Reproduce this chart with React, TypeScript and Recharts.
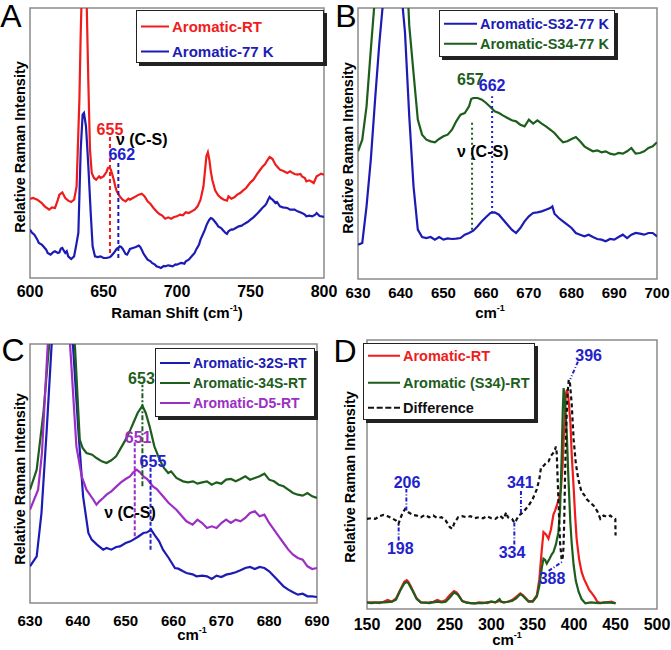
import React from 'react';
import { LineChart, Line, XAxis, YAxis, ReferenceArea, ReferenceLine, ReferenceDot } from 'recharts';

const FONT = '"Liberation Sans", Arial, Helvetica, sans-serif';
const RED = '#f01c1c';
const BLUE = '#1c1cb4';
const GREEN = '#1d5e1d';
const PURPLE = '#9b2fc4';
const LBLUE = '#2222cc';

type Pt = [number, number];

// ---- panel A: Raman shift (cm-1), relative intensity (a.u.)
const aTicks = [600, 650, 700, 750, 800];
const aRT: Pt[] = [[600,237],[602,240],[605,235],[608,225],[610,215],[613,205],[615,212],[617,210],[619,235],[620,250],[622,257],[624,240],[626,232],[628,228],[630,235],[631.7,275],[633.6,535],[634.5,735],[635.5,900],[637,1000],[638.2,900],[639.7,585],[640.8,385],[642,315],[643.5,300],[645,295],[647,305],[648,300],[650,305],[652,318],[653,330],[654,332],[655,325],[656,310],[657,295],[658,275],[659,260],[661,245],[663,235],[665,230],[667,238],[668,235],[670,240],[672,245],[674,250],[676,253],[678,245],[680,230],[682,222],[684,210],[686,200],[688,192],[690,187],[692,178],[694,182],[696,178],[698,183],[700,185],[702,190],[704,188],[706,197],[708,195],[710,200],[712,205],[714,215],[716,235],[718,275],[719,320],[720,365],[721,377],[722,355],[723,320],[724,295],[726,262],[728,248],[730,240],[732,235],[734,232],[735,245],[737,238],[739,242],[741,250],[743,255],[745,263],[747,270],[750,287],[752,295],[755,315],[758,333],[760,342],[761,350],[763,363],[764,360],[765,357],[767,340],[769,330],[770,325],[772,322],[775,315],[777,320],[778,317],[780,312],[782,310],[784,312],[785,305],[787,300],[788,290],[790,293],[792,288],[793,285],[795,305],[797,310],[798,313],[800,310]];
const a77K: Pt[] = [[600,145],[601.5,135],[603,130],[605,115],[606,105],[608,100],[609,95],[611,85],[612,75],[614,70],[616,78],[617,80],[619,75],[620,77],[621,88],[622,90],[623,82],[624,75],[625,80],[626,65],[628,57],[630,65],[631.5,100],[632.9,135],[634.5,385],[635.8,490],[636.7,495],[638.1,455],[639.7,335],[641.3,195],[642.6,95],[644.2,65],[646,63],[648,65],[650,60],[652,60],[654,62],[655,65],[657,75],[659,88],[660,90],[661,95],[662,93],[663,88],[664,80],[665,72],[666,70],[667,78],[668,87],[670,90],[672,93],[673,95],[674,97],[675,93],[676,85],[677,75],[678,68],[680,55],[682,50],[683,45],[685,40],[686,35],[688,32],[689,30],[691,36],[692,35],[694,38],[695,37],[697,35],[699,41],[700,40],[702,44],[703,45],[705,43],[706,50],[708,55],[710,65],[712,75],[713,85],[715,100],[716,115],[718,135],[719,145],[720,158],[721,167],[722,175],[723,180],[724,178],[725,173],[727,162],[728,155],[730,150],[731,145],[733,135],[734,132],[735,140],[737,146],[738,145],[740,150],[742,155],[744,157],[745,160],[748,168],[750,175],[752,182],[755,195],[757,205],[758,210],[760,218],[761,225],[762,235],[763,243],[764,238],[765,235],[767,225],[768,228],[770,215],[772,212],[775,210],[777,205],[780,205],[782,200],[785,195],[787,190],[788,185],[790,187],[792,185],[794,190],[795,195],[797,186],[800,183]];

// ---- panel B
const bTicks = [630, 640, 650, 660, 670, 680, 690, 700];
const bS32: Pt[] = [[630,103],[631,108],[632,218],[633,358],[634,538],[635,708],[636,850],[637,950],[638,980],[639,950],[640,880],[641,740],[642,488],[643,278],[644,148],[645,126],[646,123],[647,126],[648,118],[649,126],[650,118],[651,122],[652,120],[653,121],[654,123],[655,133],[656,138],[657,145],[658,158],[659,173],[660,186],[661,198],[662,200],[663,193],[664,178],[665,163],[666,148],[667,138],[668,153],[669,173],[670,188],[671,198],[672,200],[673,203],[674,208],[675,213],[675.5,218],[676,196],[677,183],[678,173],[679,163],[680,153],[681,138],[682,133],[683,128],[684,133],[685,126],[686,120],[687,118],[688,113],[689,120],[690,118],[691,126],[692,133],[693,123],[694,133],[695,138],[696,136],[697,133],[698,138],[699,138],[700,128]];
const bS34: Pt[] = [[630,383],[631,418],[632,518],[633,688],[634,850],[635,1000],[641,1000],[641.5,900],[642,760],[643,618],[644,478],[645,433],[646,418],[647,413],[648,410],[649,420],[650,428],[651,433],[652,448],[653,473],[654,493],[655,498],[656,518],[656.5,540],[657,543],[658,543],[659,538],[660,528],[661,516],[662,503],[663,498],[664,490],[665,483],[666,476],[667,473],[668,463],[669,458],[670,478],[671,466],[672,476],[673,466],[674,458],[675,448],[676,438],[677,423],[678,410],[679,413],[680,420],[681,426],[682,413],[683,398],[684,390],[685,383],[686,386],[687,380],[688,383],[689,376],[690,373],[691,378],[692,376],[693,383],[694,393],[695,376],[696,378],[697,383],[698,393],[699,398],[700,410]];

// ---- panel C
const cTicks = [630, 640, 650, 660, 670, 680, 690];
const c32S: Pt[] = [[630,110],[631.4,140],[632.4,270],[633.5,520],[634.5,770],[635,850],[638,850],[639,770],[640.1,520],[641.1,320],[642.2,210],[642.9,190],[644,175],[645.3,160],[646,165],[647,160],[648,168],[648.8,170],[650,180],[651,185],[651.6,190],[652.5,198],[653.7,210],[654.5,212],[655.3,220],[656,205],[657,185],[657.8,160],[659,135],[660.3,105],[661,103],[662,95],[662.7,90],[664,86],[664.8,80],[666,82],[667,80],[668,72],[669,82],[670,78],[671,85],[672,88],[673,92],[674,98],[675,105],[676,108],[677,102],[678,108],[679,105],[680,95],[681,80],[682,65],[683,50],[684,40],[685,32],[686,25],[687,28],[688,20],[689,20],[690,18]];
const c34S: Pt[] = [[630,340],[631.4,400],[632.8,570],[633.8,740],[634.5,850],[638.5,850],[639.4,770],[640.4,490],[641,465],[641.8,450],[643,445],[643.9,435],[645,425],[646,420],[647,428],[648,440],[648.8,460],[650,490],[651,520],[651.6,540],[652.5,570],[653.5,592],[654.2,570],[655,530],[656,470],[657.1,430],[658,405],[658.9,390],[659.5,395],[660.6,375],[662,365],[663,362],[664.1,365],[665,358],[666,362],[667,365],[668,355],[669,362],[670,358],[671,370],[672,372],[673,365],[674,372],[675,380],[676,370],[677,375],[678,380],[679,388],[680,370],[681,365],[682,355],[683,350],[684,340],[685,330],[686,325],[687,322],[688,330],[689,320],[690,315]];
const cD5: Pt[] = [[630,280],[631.7,340],[632.5,450],[633.5,720],[634,850],[638,850],[638.4,770],[639.7,470],[640.8,380],[641.8,340],[643,315],[643.9,295],[644.5,305],[645.3,315],[646,325],[647,335],[648.1,350],[649,362],[650,372],[650.9,380],[651.6,392],[652.3,400],[653,392],[653.7,380],[654.5,372],[655.7,350],[656.5,342],[657.8,320],[659,300],[660.6,280],[661.5,265],[662.7,245],[664,235],[665,250],[666,240],[667,225],[668,230],[669,225],[670,240],[671,250],[672,240],[673,250],[674,245],[675,255],[676,270],[677,275],[678,260],[679,265],[680,240],[681,220],[682,200],[683,180],[684,160],[685,145],[686,135],[687,130],[688,110],[689,102],[690,105]];

// ---- panel D
const dTicks = [150, 200, 250, 300, 350, 400, 450, 500];
const dRT: Pt[] = [[150,19],[155,20],[160,20],[165,18],[170,22],[175,27],[180,22],[185,32],[190,57],[195,82],[198,87],[200,82],[203,68],[205,57],[210,32],[215,20],[220,19],[225,20],[230,22],[235,27],[240,22],[245,27],[250,42],[255,54],[258,50],[260,44],[265,24],[270,20],[275,18],[280,17],[285,20],[290,19],[295,18],[300,22],[305,20],[310,24],[315,20],[320,22],[325,27],[330,37],[335,47],[338,42],[340,37],[345,24],[350,24],[355,42],[358,90],[361,180],[363,232],[366,225],[369,212],[372,240],[375,285],[377,297],[380,320],[382,335],[384,360],[386,430],[388,550],[390,650],[391.5,662],[393,640],[395.5,562],[397,470],[399.5,362],[401,290],[403,212],[406,150],[409,112],[412,90],[415.5,72],[418,58],[421.5,47],[425,35],[428,22],[432,18],[436,20],[440,20],[445,22],[450,17]];
const dS34: Pt[] = [[150,20],[155,18],[160,19],[165,20],[170,20],[175,21],[180,22],[185,28],[190,55],[195,77],[198,82],[200,78],[205,55],[210,30],[215,20],[220,19],[225,18],[230,20],[235,22],[240,20],[245,22],[250,35],[255,50],[258,46],[260,42],[265,24],[270,19],[275,18],[280,17],[285,18],[290,18],[295,20],[300,22],[305,20],[310,30],[312,22],[315,20],[320,22],[325,24],[330,32],[335,45],[338,40],[340,35],[345,22],[350,22],[355,38],[358,70],[361,125],[363,152],[365,148],[367,137],[370,150],[373,165],[375,172],[378,195],[381,232],[383,300],[385,462],[386.3,600],[387.3,667],[388.5,640],[390,580],[391.4,512],[393,400],[395.4,262],[397,200],[399.4,132],[402,85],[405.4,52],[409,30],[413.5,17],[420,20],[430,18],[440,20],[450,18]];
const dDiff: Pt[] = [[150,272],[155,274],[160,272],[165,280],[170,284],[175,280],[180,274],[185,267],[188,257],[190,272],[193,290],[196,302],[198,297],[200,292],[205,284],[210,282],[215,277],[220,284],[225,277],[230,282],[235,274],[240,277],[245,267],[250,247],[253,242],[255,257],[260,277],[265,280],[270,277],[275,280],[280,274],[285,277],[290,274],[295,280],[300,274],[305,272],[310,282],[315,272],[318,292],[320,277],[325,272],[328,260],[330,267],[333,282],[336,287],[340,297],[345,312],[350,332],[355,362],[358,392],[360,427],[363,432],[366,440],[369,445],[372,462],[375,472],[377,482],[378,490],[379,470],[381,330],[383,200],[385,147],[386,150],[387,180],[388,260],[389,400],[390.5,550],[392,650],[393.5,692],[395,680],[397,620],[399.4,512],[402,440],[405,392],[409,352],[412,345],[415,332],[419,322],[423.5,312],[428,295],[431.6,272],[435.6,282],[440,278],[443.6,282],[447,275],[449.7,272],[450,222]];

type Series = { name: string; pts: Pt[]; color: string; dash?: string };
type Mark = { x1: number; y1: number; x2: number; y2: number; color: string; dash: string };
type Note = { x: number; y: number; text: string; color: string };

const toRows = (pts: Pt[]) => pts.map(([x, y]) => ({ x, y }));

function Panel(props: {
  left: number; top: number; width: number; height: number;
  margin: { top: number; right: number; bottom: number; left: number };
  xDomain: [number, number]; xTicks: number[]; yMax: number; tickFont: number; tickMargin: number;
  series: Series[]; marks: Mark[]; notes: Note[];
}) {
  const { xDomain, yMax } = props;
  return (
    <div style={{ position: 'absolute', left: props.left, top: props.top }}>
      <LineChart width={props.width} height={props.height} margin={props.margin}>
        <XAxis type="number" dataKey="x" domain={xDomain} ticks={props.xTicks} interval={0} allowDataOverflow
          axisLine={false} tickLine={false} height={28} tickMargin={props.tickMargin}
          tick={{ fontSize: props.tickFont, fontWeight: 700, fill: '#000', fontFamily: FONT }} />
        <YAxis type="number" domain={[0, yMax]} hide width={0} allowDataOverflow />
        <ReferenceArea x1={xDomain[0]} x2={xDomain[1]} y1={0} y2={yMax} fill="none" stroke="#8a8a8a" strokeWidth={1.5} ifOverflow="visible" />
        {props.series.map((s) => (
          <Line key={s.name} data={toRows(s.pts)} dataKey="y" stroke={s.color} strokeWidth={2.2}
            strokeDasharray={s.dash} dot={false} isAnimationActive={false} />
        ))}
        {props.marks.map((m, i) => (
          <ReferenceLine key={'m' + i} segment={[{ x: m.x1, y: m.y1 }, { x: m.x2, y: m.y2 }]}
            stroke={m.color} strokeWidth={2} strokeDasharray={m.dash} ifOverflow="visible" />
        ))}
        {props.notes.map((n, i) => (
          <ReferenceDot key={'n' + i} x={n.x} y={n.y} r={0} fill="none" stroke="none"
            label={{ value: n.text, position: 'center', fill: n.color, fontSize: 16, fontWeight: 700, fontFamily: FONT }} />
        ))}
      </LineChart>
    </div>
  );
}

function Txt({ x, y, children, size = 15, weight = 700, rotate = false }: { x: number; y: number; children: React.ReactNode; size?: number; weight?: number; rotate?: boolean }) {
  return (
    <div style={{
      position: 'absolute', left: x, top: y, fontFamily: FONT, fontSize: size, fontWeight: weight, lineHeight: 1,
      whiteSpace: 'nowrap', color: '#000',
      transform: `translate(-50%, -50%)${rotate ? ' rotate(-90deg)' : ''}`,
    }}>{children}</div>
  );
}

function LegendBox({ left, top, width, height, rows, lineW, size, entries }: {
  left: number; top: number; width: number; height: number; rows: number[]; lineW: number; size: number; entries: Series[];
}) {
  return (
    <div style={{
      position: 'absolute', left, top, width, height, boxSizing: 'border-box', background: '#fff',
      border: '1.5px solid #222', boxShadow: '3px 3px 0 #222',
    }}>
      {entries.map((e, i) => (
        <div key={e.name} style={{ position: 'absolute', left: 4, top: rows[i], transform: 'translateY(-50%)', display: 'flex', alignItems: 'center', whiteSpace: 'nowrap' }}>
          <span style={{ display: 'inline-block', width: lineW, borderTop: `2.2px ${e.dash ? 'dashed' : 'solid'} ${e.color}`, marginRight: 3 }} />
          <span style={{ fontFamily: FONT, fontSize: size, fontWeight: 700, color: e.color, lineHeight: 1, whiteSpace: 'nowrap' }}>{e.name}</span>
        </div>
      ))}
    </div>
  );
}

const aSeries: Series[] = [
  { name: 'Aromatic-RT', pts: aRT, color: RED },
  { name: 'Aromatic-77 K', pts: a77K, color: BLUE },
];
const bSeries: Series[] = [
  { name: 'Aromatic-S32-77 K', pts: bS32, color: BLUE },
  { name: 'Aromatic-S34-77 K', pts: bS34, color: GREEN },
];
const cSeries: Series[] = [
  { name: 'Aromatic-32S-RT', pts: c32S, color: BLUE },
  { name: 'Aromatic-34S-RT', pts: c34S, color: GREEN },
  { name: 'Aromatic-D5-RT', pts: cD5, color: PURPLE },
];
const dSeries: Series[] = [
  { name: 'Aromatic-RT', pts: dRT, color: RED },
  { name: 'Aromatic (S34)-RT', pts: dS34, color: GREEN },
  { name: 'Difference', pts: dDiff, color: '#111', dash: '4 3' },
];

const aMarks: Mark[] = [
  { x1: 654.4, y1: 75, x2: 654.4, y2: 425, color: RED, dash: '4 3' },
  { x1: 660.1, y1: 60, x2: 660.1, y2: 350, color: BLUE, dash: '4 3' },
];
const aNotes: Note[] = [
  { x: 654.4, y: 445, text: '655', color: RED },
  { x: 662.4, y: 370, text: '662', color: LBLUE },
  { x: 676, y: 415, text: 'ν (C-S)', color: '#000' },
];
const bMarks: Mark[] = [
  { x1: 656.7, y1: 148, x2: 656.7, y2: 473, color: GREEN, dash: '2 3' },
  { x1: 661.4, y1: 198, x2: 661.4, y2: 548, color: LBLUE, dash: '2 3' },
];
const bNotes: Note[] = [
  { x: 656.3, y: 600, text: '657', color: GREEN },
  { x: 661.4, y: 580, text: '662', color: LBLUE },
  { x: 659.2, y: 383, text: 'ν (C-S)', color: '#000' },
];
const cMarks: Mark[] = [
  { x1: 653.5, y1: 350, x2: 653.5, y2: 655, color: GREEN, dash: '5 2 2 2' },
  { x1: 651.9, y1: 200, x2: 651.9, y2: 485, color: PURPLE, dash: '4 2' },
  { x1: 655.2, y1: 160, x2: 655.2, y2: 410, color: LBLUE, dash: '4 2' },
];
const cNotes: Note[] = [
  { x: 653.3, y: 675, text: '653', color: GREEN },
  { x: 652.6, y: 498, text: '651', color: PURPLE },
  { x: 655.7, y: 425, text: '655', color: LBLUE },
  { x: 650.9, y: 272, text: 'ν (C-S)', color: '#000' },
];
const dMarks: Mark[] = [
  { x1: 197.5, y1: 297, x2: 197.5, y2: 362, color: LBLUE, dash: '4 2 1 2' },
  { x1: 188.2, y1: 207, x2: 188.2, y2: 260, color: LBLUE, dash: '4 2 1 2' },
  { x1: 335.8, y1: 290, x2: 335.8, y2: 362, color: LBLUE, dash: '4 2 1 2' },
  { x1: 327.8, y1: 195, x2: 327.8, y2: 262, color: LBLUE, dash: '4 2 1 2' },
  { x1: 369.2, y1: 115, x2: 386.5, y2: 144, color: LBLUE, dash: '4 2 1 2' },
  { x1: 404.6, y1: 747, x2: 395.4, y2: 694, color: LBLUE, dash: '4 2 1 2' },
];
const dNotes: Note[] = [
  { x: 198.3, y: 382, text: '206', color: LBLUE },
  { x: 190.2, y: 182, text: '198', color: LBLUE },
  { x: 335, y: 382, text: '341', color: LBLUE },
  { x: 325, y: 172, text: '334', color: LBLUE },
  { x: 373.3, y: 92, text: '388', color: LBLUE },
  { x: 417.5, y: 767, text: '396', color: LBLUE },
];

const cm = <span>cm<sup style={{ fontSize: '0.6em', verticalAlign: '0.7em', lineHeight: 0 }}>-1</sup></span>;

export default function App() {
  return (
    <div style={{ position: 'absolute', left: 0, top: 0, width: 671, height: 650, background: '#fff', overflow: 'hidden' }}>
      <Panel left={0} top={0} width={346} height={320} margin={{ top: 8, right: 22, bottom: 14, left: 30 }}
        xDomain={[600, 800]} xTicks={aTicks} yMax={810} tickFont={16} tickMargin={2}
        series={aSeries} marks={aMarks} notes={aNotes} />
      <Panel left={335} top={0} width={336} height={320} margin={{ top: 8, right: 14, bottom: 13, left: 23 }}
        xDomain={[630, 700]} xTicks={bTicks} yMax={813} tickFont={15} tickMargin={2}
        series={bSeries} marks={bMarks} notes={bNotes} />
      <Panel left={0} top={320} width={335} height={330} margin={{ top: 24, right: 18, bottom: 19, left: 30 }}
        xDomain={[630, 690]} xTicks={cTicks} yMax={777} tickFont={15} tickMargin={6}
        series={cSeries} marks={cMarks} notes={cNotes} />
      <Panel left={335} top={320} width={336} height={330} margin={{ top: 20, right: 14, bottom: 13, left: 32 }}
        xDomain={[150, 500]} xTicks={dTicks} yMax={812} tickFont={16} tickMargin={4}
        series={dSeries} marks={dMarks} notes={dNotes} />

      <LegendBox left={136} top={10} width={188} height={53} rows={[15, 40]} lineW={28} size={15} entries={aSeries} />
      <LegendBox left={439} top={10} width={176} height={47} rows={[13, 33]} lineW={33} size={14.5} entries={bSeries} />
      <LegendBox left={155} top={348} width={160} height={69} rows={[14, 34, 54]} lineW={30} size={14} entries={cSeries} />
      <LegendBox left={363} top={343} width={172} height={77} rows={[12, 39, 64]} lineW={32} size={14.5} entries={dSeries} />

      <Txt x={11} y={16} size={32} weight={400}>A</Txt>
      <Txt x={346} y={16} size={32} weight={400}>B</Txt>
      <Txt x={13} y={350} size={32} weight={400}>C</Txt>
      <Txt x={345} y={351} size={32} weight={400}>D</Txt>

      <Txt x={20} y={147} size={14.5} rotate>Relative Raman Intensity</Txt>
      <Txt x={348} y={148} size={14.5} rotate>Relative Raman Intensity</Txt>
      <Txt x={20} y={479} size={14.5} rotate>Relative Raman Intensity</Txt>
      <Txt x={350} y={477} size={14.5} rotate>Relative Raman Intensity</Txt>

      <Txt x={177} y={312} size={15}>Raman Shift ({cm})</Txt>
      <Txt x={490} y={312} size={15}>{cm}</Txt>
      <Txt x={192} y={634} size={15}>{cm}</Txt>
      <Txt x={507} y={639} size={15}>{cm}</Txt>
    </div>
  );
}
